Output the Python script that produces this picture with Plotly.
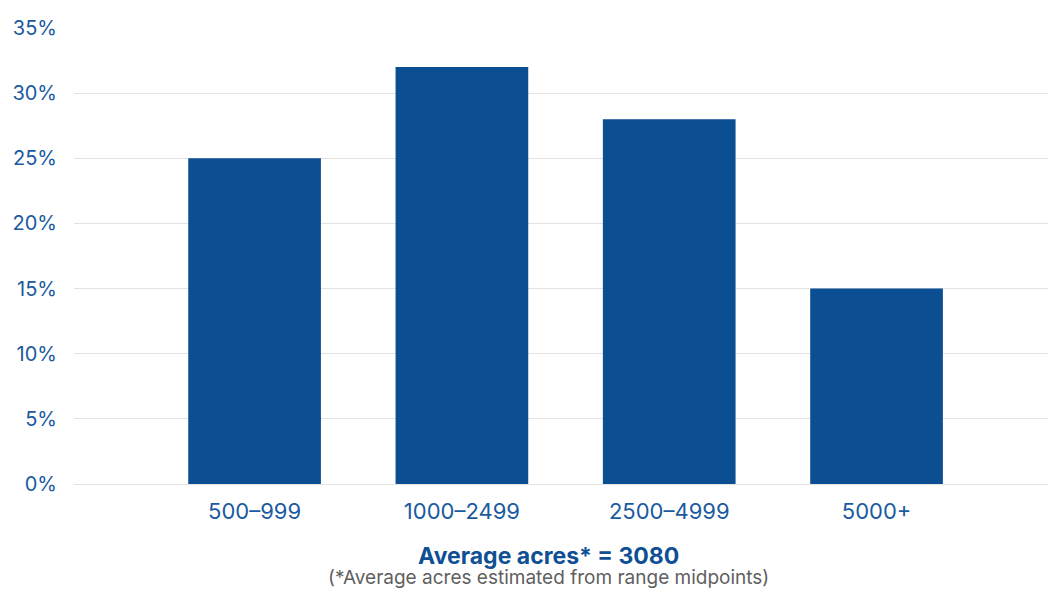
import plotly.graph_objects as go

# Farm size distribution
categories = ["500–999", "1000–2499", "2500–4999", "5000+"]
shares = [25, 32, 28, 15]
y_ticks = [0, 5, 10, 15, 20, 25, 30, 35]
y_tick_labels = [f"{v}%" for v in y_ticks]

BAR_COLOR = "#0b4f92"
TEXT_BLUE = "#1a5a9f"
FONT = "Inter, Roboto, sans-serif"

W, H = 1051, 589
L, R, T, B = 74, 3, 28, 105
PW, PH = W - L - R, H - T - B


def px_to_paper(px, py):
    """Convert page pixel coordinates to plot-area paper coordinates."""
    return (px - L) / PW, (H - B - py) / PH


fig = go.Figure(
    go.Bar(
        x=categories,
        y=shares,
        marker=dict(color=BAR_COLOR, line=dict(width=0)),
        hoverinfo="x+y",
    )
)

note_x, note_y = px_to_paper(548, 565)
note_text = (
    "<span style='font-size:23px;color:#0f4f93'><b>Average acres* = 3080</b></span>"
    "<br><span style='font-size:19px'>(*Average acres estimated from range midpoints)</span>"
)

fig.update_layout(
    width=W,
    height=H,
    margin=dict(l=L, r=R, t=T, b=B),
    paper_bgcolor="white",
    plot_bgcolor="white",
    bargap=0.36,
    showlegend=False,
    font=dict(family=FONT, color=TEXT_BLUE, size=20),
    xaxis=dict(
        type="category",
        range=[-0.871, 3.827],
        showgrid=False,
        showline=False,
        zeroline=False,
        ticks="",
        ticklabelstandoff=12,
        tickfont=dict(size=22, color=TEXT_BLUE),
    ),
    yaxis=dict(
        range=[0, 35],
        tickvals=y_ticks,
        ticktext=y_tick_labels,
        showgrid=True,
        gridcolor="#e2e2e2",
        gridwidth=1.3,
        zeroline=True,
        zerolinecolor="#e2e2e2",
        zerolinewidth=1.3,
        showline=False,
        ticks="",
        ticklabelstandoff=16,
        tickfont=dict(size=20, color=TEXT_BLUE),
    ),
    annotations=[
        dict(
            text=note_text,
            x=note_x, y=note_y,
            xref="paper", yref="paper",
            xanchor="center", yanchor="middle",
            showarrow=False,
            font=dict(family=FONT, size=15, color="#5f5f5f"),
        ),
    ],
)

fig.write_html("out.html")
